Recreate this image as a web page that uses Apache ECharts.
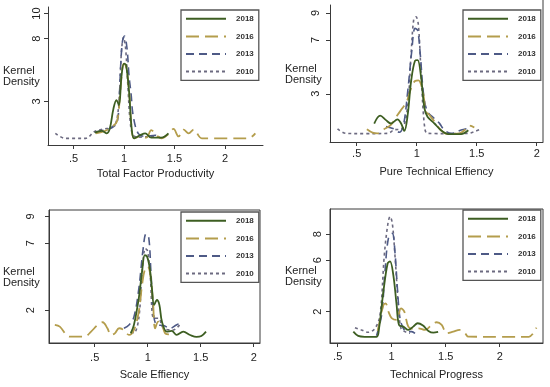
<!DOCTYPE html>
<html>
<head>
<meta charset="utf-8">
<script src="https://cdn.jsdelivr.net/npm/echarts@6/dist/echarts.min.js"></script>
<style>html,body{margin:0;padding:0;background:#fff}#c{width:550px;height:387px}</style>
</head>
<body>
<div id="c"></div>
<script>
// ---------- data ----------
const years = ['2018', '2016', '2013', '2010'];
const xTicks = [0.5, 1, 1.5, 2];
const yTicksTFP = [3, 8, 10];
const yTicksPTE = [3, 7, 9];
const yTicksSE = [2, 7, 9];
const yTicksTP = [2, 6, 8];
const panelTitles = ['Total Factor Productivity', 'Pure Technical Effiency', 'Scale Effiency', 'Technical Progress'];

const tfp2018 = [[0.71,0.5],[0.78,0.65],[0.83,0.45],[0.86,0.85],[0.895,2.4],[0.925,3.1],[0.95,2.7],[0.975,5.0],[1.0,6.0],[1.02,5.9],[1.05,3.8],[1.075,0.9],[1.10,0.05],[1.16,0.3],[1.21,0.45],[1.27,0.1],[1.37,0.1],[1.44,0.45]];
const tfp2016 = [[0.72,0.45],[0.8,0.6],[0.87,0.9],[0.93,1.4],[0.96,3.5],[0.985,5.7],[1.0,6.0],[1.02,5.8],[1.05,3.8],[1.075,0.9],[1.10,0.05],[1.16,0.2],[1.22,0.1],[1.27,0.7],[1.32,0.3],[1.37,0.05],[1.44,0.4],[1.49,0.8],[1.54,0.2],[1.59,0.75],[1.64,0.45],[1.69,0.75],[1.77,0.05],[2.0,0.05],[2.23,0.05],[2.30,0.45]];
const tfp2013 = [[0.72,0.55],[0.8,0.7],[0.88,0.9],[0.93,1.3],[0.95,2.8],[0.968,6.0],[0.985,7.8],[1.005,8.2],[1.03,7.2],[1.05,5.0],[1.07,3.6],[1.09,1.9],[1.14,0.45],[1.21,0.2],[1.31,0.3],[1.37,0.1]];
const tfp2010 = [[0.32,0.45],[0.42,0.05],[0.62,0.05],[0.71,0.6],[0.8,0.8],[0.87,0.9],[0.92,1.3],[0.95,3.0],[0.975,7.0],[0.995,8.1],[1.015,7.3],[1.04,4.0],[1.06,1.5],[1.09,0.3],[1.15,0.15],[1.30,0.2],[1.38,0.05]];

const pte2018 = [[0.646,0.8],[0.696,1.38],[0.744,1.05],[0.785,0.8],[0.84,1.1],[0.87,0.8],[0.897,0.25],[0.925,1.45],[0.953,3.9],[0.986,5.45],[1.008,5.5],[1.036,4.27],[1.064,1.95],[1.09,1.3],[1.148,0.8],[1.20,0.32],[1.26,0.02],[1.37,0.02],[1.43,0.3]];
const pte2016 = [[0.585,0.37],[0.632,0.12],[0.674,0.07],[0.716,0.32],[0.785,0.7],[0.84,1.43],[0.88,1.93],[0.916,2.4],[0.953,3.4],[0.986,3.95],[1.014,4.0],[1.05,3.2],[1.078,1.68],[1.106,1.43],[1.148,0.94],[1.2,0.32],[1.26,0.02],[1.357,0.07],[1.40,0.32],[1.44,0.64],[1.48,0.5]];
const pte2013 = [[0.744,0.57],[0.81,0.4],[0.855,0.15],[0.89,0.7],[0.925,3.16],[0.958,6.1],[0.986,7.85],[1.008,7.7],[1.03,5.9],[1.058,2.9],[1.09,1.68],[1.14,1.23],[1.19,0.81],[1.23,0.32],[1.29,0.07],[1.37,0.32],[1.43,0.44]];
const pte2010 = [[0.34,0.4],[0.41,0.07],[0.58,0.05],[0.76,0.07],[0.81,0.32],[0.88,0.44],[0.925,2.17],[0.953,5.9],[0.975,8.5],[0.994,8.7],[1.014,8.1],[1.036,4.6],[1.064,0.7],[1.09,0.07],[1.25,0.05],[1.43,0.07],[1.48,0.2],[1.54,0.4]];

const se2018 = [[0.84,0.27],[0.87,0.9],[0.916,2.9],[0.947,4.9],[0.972,6.1],[0.994,6.0],[1.02,5.1],[1.04,3.6],[1.06,2.4],[1.087,2.76],[1.11,2.4],[1.134,1.15],[1.18,0.4],[1.227,0.45],[1.273,0.15],[1.335,0.4],[1.40,0.15],[1.46,0.0],[1.506,0.07],[1.55,0.4]];
const se2016 = [[0.124,0.9],[0.171,0.77],[0.264,0.02],[0.404,0.02],[0.466,0.4],[0.528,0.9],[0.575,1.1],[0.62,0.65],[0.652,0.15],[0.69,0.27],[0.73,0.65],[0.776,0.52],[0.823,0.15],[0.87,0.52],[0.916,1.9],[0.947,3.9],[0.972,5.0],[1.0,5.25],[1.025,4.6],[1.05,2.6],[1.07,0.65],[1.10,1.15],[1.134,0.9],[1.165,0.27],[1.2,0.2]];
const se2013 = [[0.776,0.65],[0.823,0.9],[0.87,1.5],[0.916,3.6],[0.957,6.6],[0.984,7.7],[1.01,7.4],[1.03,4.9],[1.056,1.64],[1.087,0.9],[1.15,0.85],[1.21,0.65],[1.27,0.9],[1.32,1.1]];
const se2010 = [[0.84,0.4],[0.87,0.3],[0.916,1.4],[0.947,4.9],[0.978,6.6],[1.0,6.4],[1.025,4.4],[1.056,1.4],[1.10,1.4],[1.15,0.65],[1.24,0.52],[1.30,0.9]];

const tp2018 = [[0.645,0.45],[0.69,0.12],[0.75,0.05],[0.86,0.05],[0.883,0.7],[0.923,3.55],[0.963,5.75],[0.985,5.9],[1.015,4.85],[1.046,2.5],[1.068,0.97],[1.108,0.84],[1.154,0.58],[1.2,0.84],[1.24,1.1],[1.29,0.92],[1.34,0.5],[1.386,0.37],[1.43,0.43]];
const tp2016 = [[0.87,0.5],[0.892,1.36],[0.923,2.5],[0.944,2.65],[0.97,2.0],[1.0,1.5],[1.046,1.36],[1.086,2.26],[1.117,2.0],[1.154,0.84],[1.2,0.66],[1.247,0.71],[1.31,0.58],[1.37,0.97],[1.417,1.18],[1.463,0.97],[1.51,0.32],[1.57,0.45],[1.63,0.58],[1.68,0.32],[1.71,0.06],[2.0,0.05],[2.27,0.05],[2.31,0.32],[2.34,0.76]];
const tp2013 = [[0.86,0.14],[0.907,1.74],[0.938,5.1],[0.97,7.7],[1.006,8.07],[1.03,6.65],[1.055,3.55],[1.077,1.49],[1.108,0.71],[1.14,0.45],[1.185,0.45],[1.216,0.32]];
const tp2010 = [[0.66,0.76],[0.72,0.58],[0.784,0.4],[0.846,0.71],[0.892,1.74],[0.932,6.4],[0.963,8.7],[0.985,9.37],[1.006,8.85],[1.03,6.4],[1.062,2.5],[1.086,0.71],[1.123,0.45],[1.17,0.32]];

// ---------- layout / style ----------
const FONT = '"Liberation Sans", Arial, sans-serif';
const styles = {
  '2018': {color: '#3d5e22', type: 'solid', width: 1.8},
  '2016': {color: '#b49d4c', type: [13, 6], width: 1.8},
  '2013': {color: '#4e5a86', type: [8, 5], width: 1.6},
  '2010': {color: '#6c6a80', type: [3, 3], width: 1.6}
};
const panels = [
  {grid: {left: 48, top: 7, width: 215, height: 138}, x: [0.2475, 2.376], y: [-0.48, 10.52], yt: yTicksTFP, data: {'2018': tfp2018, '2016': tfp2016, '2013': tfp2013, '2010': tfp2010}, xm: 8, ym: 6, gap: 23, frame: 'none', kx: 23, ky: 77, leg: {left: 181, top: 10}},
  {grid: {left: 330, top: 5, width: 213, height: 137}, x: [0.2775, 2.0525], y: [-0.57, 9.58], yt: yTicksPTE, data: {'2018': pte2018, '2016': pte2016, '2013': pte2013, '2010': pte2010}, xm: 6, ym: 9, gap: 24.5, frame: 'right', kx: 305, ky: 75, leg: {left: 463, top: 10}},
  {grid: {left: 49, top: 210, width: 211, height: 133}, x: [0.069, 2.059], y: [-0.45, 9.48], yt: yTicksSE, data: {'2018': se2018, '2016': se2016, '2013': se2013, '2010': se2010}, xm: 9, ym: 13, gap: 26.5, frame: 'full', kx: 23, ky: 278, leg: {left: 181, top: 212}},
  {grid: {left: 330, top: 209, width: 213, height: 134}, x: [0.429, 2.401], y: [-0.43, 9.96], yt: yTicksTP, data: {'2018': tp2018, '2016': tp2016, '2013': tp2013, '2010': tp2010}, xm: 8, ym: 7, gap: 26.5, frame: 'full', kx: 305, ky: 277, leg: {left: 463, top: 210}}
];

const grid = [], xAxis = [], yAxis = [], series = [], legend = [], graphic = [];
const AX = '#3a3a3a';
panels.forEach((p, i) => {
  grid.push(Object.assign({
    show: p.frame === 'full', borderColor: AX, borderWidth: 1, backgroundColor: 'transparent'
  }, p.grid));
  xAxis.push({
    type: 'value', gridIndex: i, min: p.x[0], max: p.x[1],
    name: panelTitles[i], nameLocation: 'middle', nameGap: p.gap,
    nameTextStyle: {fontFamily: FONT, fontSize: 11, color: '#222'},
    axisLine: {show: true, onZero: false, lineStyle: {color: AX, width: 1}},
    axisTick: {show: true, length: 4, customValues: xTicks, lineStyle: {color: AX}},
    axisLabel: {customValues: xTicks, margin: p.xm, fontFamily: FONT, fontSize: 11, color: '#222',
      formatter: v => (v < 1 ? String(v).replace(/^0/, '') : String(v))},
    splitLine: {show: false}
  });
  yAxis.push({
    type: 'value', gridIndex: i, min: p.y[0], max: p.y[1],
    axisLine: {show: true, onZero: false, lineStyle: {color: AX, width: 1}},
    axisTick: {show: true, length: 4, customValues: p.yt, lineStyle: {color: AX}},
    axisLabel: {customValues: p.yt, rotate: 90, margin: p.ym, fontFamily: FONT, fontSize: 11, color: '#222'},
    splitLine: {show: false}
  });
  ['2010', '2013', '2016', '2018'].forEach(y => {
    const s = styles[y];
    series.push({
      type: 'line', name: y, xAxisIndex: i, yAxisIndex: i,
      data: p.data[y], symbol: 'none', smooth: 0.35, clip: true,
      lineStyle: {color: s.color, type: s.type, width: s.width},
      itemStyle: {color: s.color}, animation: false, silent: true
    });
  });
  legend.push({
    left: p.leg.left, top: p.leg.top, orient: 'vertical',
    data: years, itemWidth: 40, itemHeight: 12, itemGap: 8,
    padding: [4, 5, 4, 4], borderColor: '#555', borderWidth: 1.3, backgroundColor: '#fff',
    selectedMode: false,
    itemStyle: {opacity: 0, borderWidth: 0},
    textStyle: {fontFamily: FONT, fontSize: 8, fontWeight: 'bold', color: '#333', padding: [0, 0, 0, 5]}
  });
  graphic.push({type: 'text', left: p.kx - 20, top: p.ky - 12, style: {text: 'Kernel\nDensity', fontFamily: FONT, fontSize: 11, fill: '#222', lineHeight: 11, align: 'center', width: 40}});
  if (p.frame === 'right') {
    const gx = p.grid.left + p.grid.width;
    graphic.push({type: 'line', shape: {x1: gx, y1: 0, x2: gx, y2: p.grid.top + p.grid.height}, style: {stroke: AX, lineWidth: 1}});
  }
});

const chart = echarts.init(document.getElementById('c'), null, {renderer: 'canvas'});
chart.setOption({animation: false, backgroundColor: '#fff', grid, xAxis, yAxis, series, legend, graphic});
</script>
</body>
</html>
